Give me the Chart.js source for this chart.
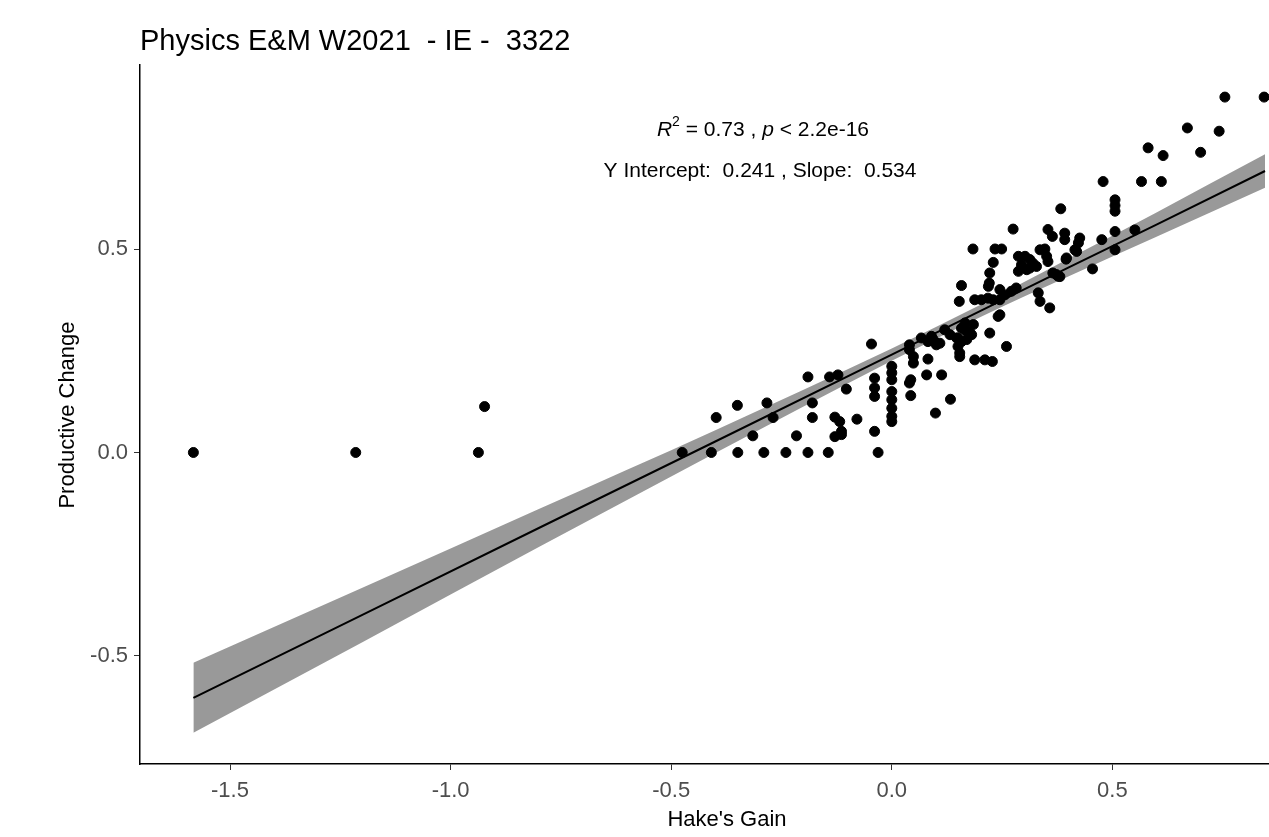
<!DOCTYPE html>
<html lang="en">
<head>
  <meta charset="UTF-8">
  <title>Physics E&amp;M W2021 - IE - 3322</title>
  <script src="https://cdn.jsdelivr.net/npm/chart.js"></script>
  <style>
    body {
      margin: 0;
      background: #ffffff;
    }
    .wrap {
      width: 1269px;
      height: 837px;
      position: relative;
    }
  </style>
</head>
<body>
  <div class="wrap">
    <canvas id="gainChart"></canvas>
  </div>

  <script>
    // Hake's gain (x) and productive change (y)
    const hakeGain = [
      -1.583, -1.215, -0.937, -0.923,
      -0.475, -0.409, -0.398, -0.350, -0.349, -0.315, -0.290, -0.283, -0.269, -0.240,
      -0.216, -0.190, -0.190, -0.180, -0.180, -0.144, -0.141, -0.122, -0.103, -0.129,
      -0.118, -0.114, -0.129, -0.114, -0.079,
      -0.046, -0.039, -0.039, -0.039, -0.039, -0.031,
      0.000, 0.000, 0.000, 0.000, 0.000, 0.000, 0.000, 0.000,
      0.040, 0.040, 0.049, 0.049, 0.043, 0.040, 0.043,
      0.082, 0.079, 0.113, 0.099, 0.133,
      0.067, 0.082, 0.094, 0.109,
      0.132, 0.147, 0.158, 0.177, 0.166, 0.185,
      0.154, 0.154, 0.188, 0.211, 0.228, 0.222,
      0.275, 0.184, 0.234, 0.249, 0.354, 0.364, 0.392, 0.392,
      0.230, 0.222, 0.221, 0.219, 0.158, 0.245, 0.153,
      0.188, 0.203, 0.218, 0.230, 0.245, 0.256, 0.271, 0.282,
      0.241, 0.245, 0.332, 0.336, 0.358,
      0.287, 0.302, 0.313, 0.320, 0.294, 0.287, 0.306, 0.313, 0.328, 0.336, 0.347,
      0.351, 0.354, 0.373, 0.381, 0.395, 0.419,
      0.090, 0.120, 0.158, 0.166, 0.170, 0.181, 0.101, 0.150, 0.170, 0.150, 0.260,
      0.383, 0.506, 0.506, 0.506, 0.426, 0.423, 0.415, 0.476, 0.506, 0.506, 0.551,
      0.396, 0.455, 0.377, 0.365,
      0.755, 0.844, 0.670, 0.742, 0.581, 0.615, 0.700, 0.479, 0.566, 0.611
    ];
    const productiveChange = [
      0.000, 0.000, 0.000, 0.113,
      0.000, 0.000, 0.086, 0.116, 0.000, 0.041, 0.000, 0.122, 0.086, 0.000,
      0.041, 0.186, 0.000, 0.122, 0.086, 0.000, 0.186, 0.191, 0.156, 0.087,
      0.076, 0.052, 0.039, 0.044, 0.082,
      0.267, 0.183, 0.159, 0.138, 0.052, 0.000,
      0.212, 0.196, 0.179, 0.150, 0.130, 0.109, 0.089, 0.076,
      0.265, 0.253, 0.236, 0.220, 0.179, 0.171, 0.140,
      0.230, 0.191, 0.191, 0.097, 0.131,
      0.282, 0.273, 0.278, 0.269,
      0.290, 0.282, 0.273, 0.294, 0.302, 0.315,
      0.245, 0.236, 0.228, 0.228, 0.224, 0.294,
      0.550, 0.501, 0.501, 0.501, 0.549, 0.532, 0.540, 0.524,
      0.468, 0.442, 0.417, 0.409, 0.411, 0.401, 0.372,
      0.376, 0.376, 0.380, 0.376, 0.376, 0.388, 0.397, 0.405,
      0.335, 0.339, 0.393, 0.372, 0.356,
      0.483, 0.483, 0.475, 0.466, 0.462, 0.446, 0.450, 0.454, 0.458, 0.499, 0.501,
      0.483, 0.470, 0.438, 0.433, 0.476, 0.495,
      0.286, 0.302, 0.306, 0.319, 0.298, 0.290, 0.265, 0.282, 0.278, 0.261, 0.261,
      0.600, 0.622, 0.608, 0.594, 0.528, 0.516, 0.499, 0.524, 0.544, 0.499, 0.548,
      0.479, 0.452, 0.434, 0.442,
      0.875, 0.875, 0.799, 0.791, 0.750, 0.731, 0.739, 0.667, 0.667, 0.667
    ];

    // fitted line and its confidence band, read at a few x positions
    const bandX     = [-1.583, -1.2, -0.8, -0.4, 0.0, 0.2, 0.4, 0.6, 0.846];
    const fitY      = [-0.604, -0.400, -0.186, 0.027, 0.241, 0.348, 0.455, 0.561, 0.693];
    const bandUpper = [-0.518, -0.333, -0.139, 0.055, 0.256, 0.363, 0.477, 0.591, 0.734];
    const bandLower = [-0.690, -0.467, -0.233, -0.001, 0.226, 0.333, 0.433, 0.531, 0.652];

    const xTicks = [-1.5, -1.0, -0.5, 0.0, 0.5];
    const yTicks = [-0.5, 0.0, 0.5];

    const font = '"Liberation Sans", Arial, sans-serif';

    const pts = (xs, ys) => xs.map((x, i) => ({ x: x, y: ys[i] }));

    // titles and the regression text
    const labelsPlugin = {
      id: 'labels',
      afterDraw(chart) {
        const ctx = chart.ctx;
        ctx.save();
        ctx.fillStyle = '#000000';
        ctx.textBaseline = 'middle';

        ctx.font = '29px ' + font;
        ctx.textAlign = 'left';
        ctx.fillText('Physics E&M W2021  - IE -  3322', 140, 42);

        // R^2 line, built from parts
        const parts = [
          ['italic 21px ' + font, 'R', 0],
          ['14px ' + font, '2', -8],
          ['21px ' + font, ' = 0.73 , ', 0],
          ['italic 21px ' + font, 'p', 0],
          ['21px ' + font, ' < 2.2e-16', 0]
        ];
        let total = 0;
        parts.forEach(p => { ctx.font = p[0]; total += ctx.measureText(p[1]).width; });
        let x = 763 - total / 2;
        ctx.textAlign = 'left';
        parts.forEach(p => {
          ctx.font = p[0];
          ctx.fillText(p[1], x, 130 + p[2]);
          x += ctx.measureText(p[1]).width;
        });

        ctx.font = '21px ' + font;
        ctx.textAlign = 'center';
        ctx.fillText('Y Intercept:  0.241 , Slope:  0.534', 760, 171);

        ctx.font = '22px ' + font;
        ctx.fillText("Hake's Gain", 727, 820);

        ctx.translate(68, 415);
        ctx.rotate(-Math.PI / 2);
        ctx.fillText('Productive Change', 0, 0);
        ctx.restore();
      }
    };

    new Chart(document.getElementById('gainChart'), {
      type: 'scatter',
      data: {
        datasets: [
          {
            label: 'Students',
            data: pts(hakeGain, productiveChange),
            backgroundColor: '#000000',
            borderColor: '#000000',
            pointRadius: 5,
            pointHoverRadius: 5
          },
          {
            label: 'Fit',
            type: 'line',
            data: pts(bandX, fitY),
            borderColor: '#000000',
            borderWidth: 2,
            pointRadius: 0,
            fill: false
          },
          {
            label: 'Upper',
            type: 'line',
            data: pts(bandX, bandUpper),
            borderWidth: 0,
            borderColor: 'rgba(0,0,0,0)',
            backgroundColor: '#999999',
            pointRadius: 0,
            cubicInterpolationMode: 'monotone',
            fill: '+1'
          },
          {
            label: 'Lower',
            type: 'line',
            data: pts(bandX, bandLower),
            borderWidth: 0,
            borderColor: 'rgba(0,0,0,0)',
            pointRadius: 0,
            cubicInterpolationMode: 'monotone',
            fill: false
          }
        ]
      },
      options: {
        responsive: true,
        maintainAspectRatio: false,
        animation: false,
        layout: { autoPadding: false, padding: { left: 0, right: 0, top: 65, bottom: 0 } },
        plugins: {
          legend: { display: false },
          tooltip: { enabled: false }
        },
        scales: {
          x: {
            type: 'linear',
            min: -1.704,
            max: 0.855,
            afterBuildTicks: axis => { axis.ticks = xTicks.map(v => ({ value: v })); },
            afterFit: axis => { axis.height = 73; },
            ticks: {
              callback: v => v.toFixed(1),
              color: '#4d4d4d',
              font: { size: 22, family: font },
              padding: 8,
              maxRotation: 0
            },
            grid: { drawOnChartArea: false, drawTicks: true, tickLength: 6, color: '#333333' },
            border: { display: true, color: '#000000', width: 1.5 }
          },
          y: {
            type: 'linear',
            min: -0.767,
            max: 0.954,
            afterBuildTicks: axis => { axis.ticks = yTicks.map(v => ({ value: v })); },
            afterFit: axis => { axis.width = 140; },
            ticks: {
              callback: v => v.toFixed(1),
              color: '#4d4d4d',
              font: { size: 22, family: font },
              padding: 6
            },
            grid: { drawOnChartArea: false, drawTicks: true, tickLength: 6, color: '#333333' },
            border: { display: true, color: '#000000', width: 1.5 }
          }
        }
      },
      plugins: [labelsPlugin]
    });
  </script>
</body>
</html>
